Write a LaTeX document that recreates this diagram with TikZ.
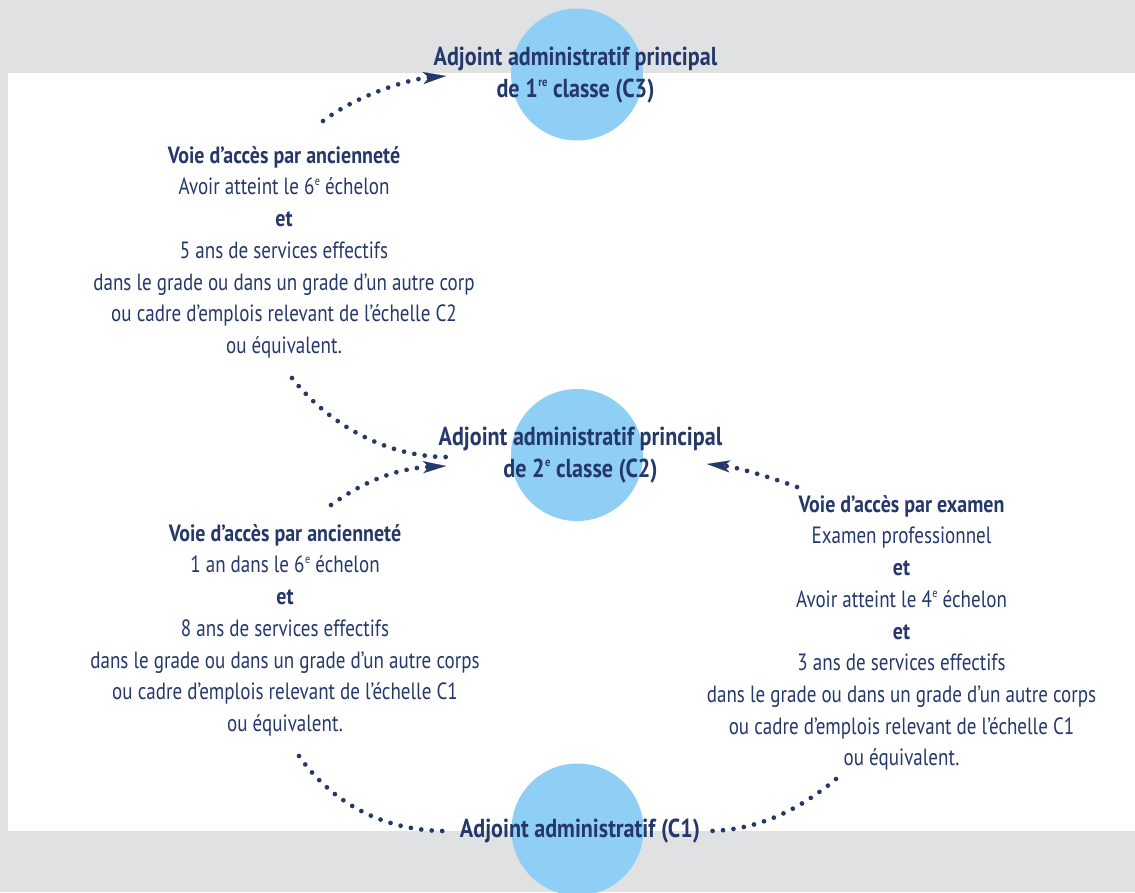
\documentclass[tikz,border=0pt]{standalone}
\usepackage{fontspec}
\setmainfont{PT Sans}[FakeStretch=0.81, BoldFeatures={FakeStretch=0.85}]
\usetikzlibrary{arrows.meta}
\definecolor{navy}{HTML}{24386A}
\definecolor{lblue}{HTML}{8FCEF5}
\definecolor{bggray}{HTML}{E0E1E3}
\tikzset{
  circ/.style={circle, fill=lblue, minimum size=132pt, inner sep=0pt},
  titletext/.style={anchor=north, inner sep=0pt, align=center, text=navy,
    font=\fontsize{26}{32}\selectfont\bfseries},
  blocktext/.style={anchor=north, inner sep=0pt, align=center, text=navy,
    font=\fontsize{23.5}{31.7}\selectfont},
  dotline/.style={draw=navy, line width=4.7pt, line cap=round, dash pattern=on 0pt off 10.5pt},
  headed/.style={-{Stealth[length=23pt, width=12pt, inset=6pt, line width=0.1pt]}}
}
\newcommand{\fs}{\rule{0pt}{26pt}}
\newcommand{\expo}[1]{\kern0.5pt\raisebox{0.42em}{\fontsize{12.5}{12.5}\selectfont #1}}
\begin{document}
\begin{tikzpicture}[x=1pt, y=-1pt]
\useasboundingbox (0,0) rectangle (1135,892);
% background
\fill[bggray] (0,0) rectangle (1135,892);
\fill[white] (8,73) rectangle (1135,831);
% circles
\node[circ] (c3) at (577,74.5) {};
\node[circ] (c2) at (577,455) {};
\node[circ] (c1) at (577.5,829.5) {};
% titles
\node[titletext] (t3) at (575.5,39) {\fs Adjoint administratif principal\\de 1\expo{re} classe (C3)};
\node[titletext] (t2) at (580.5,419) {\fs Adjoint administratif principal\\de 2\expo{e} classe (C2)};
\node[titletext] (t1) at (580,811) {\fs Adjoint administratif (C1)};
% text blocks
\node[blocktext] (b3) at (284,137) {\fs\textbf{Voie d’accès par ancienneté}\\
Avoir atteint le 6\expo{e} échelon\\
\textbf{et}\\
5 ans de services effectifs\\
dans le grade ou dans un grade d’un autre corp\\
ou cadre d’emplois relevant de l’échelle C2\\
ou équivalent.};
\node[blocktext] (b2) at (285,515) {\fs\textbf{Voie d’accès par ancienneté}\\
1 an dans le 6\expo{e} échelon\\
\textbf{et}\\
8 ans de services effectifs\\
dans le grade ou dans un grade d’un autre corps\\
ou cadre d’emplois relevant de l’échelle C1\\
ou équivalent.};
\node[blocktext] (b1) at (901.5,486) {\fs\textbf{Voie d’accès par examen}\\
Examen professionnel\\
\textbf{et}\\
Avoir atteint le 4\expo{e} échelon\\
\textbf{et}\\
3 ans de services effectifs\\
dans le grade ou dans un grade d’un autre corps\\
ou cadre d’emplois relevant de l’échelle C1\\
ou équivalent.};
% connector end points
\coordinate (a1s) at (323,121);   \coordinate (a1e) at (446,76);
\coordinate (a2s) at (292,378);   \coordinate (a2e) at (447,457);
\coordinate (a3s) at (331,505);   \coordinate (a3e) at (446,466);
\coordinate (a4s) at (797,487);   \coordinate (a4e) at (707,464);
\coordinate (a5s) at (299,756);   \coordinate (a5e) at (446,831);
\coordinate (a6s) at (836,779);   \coordinate (a6e) at (706,831);
% connectors
\draw[dotline, headed] (a1s) .. controls (354,97) and (406,79.5) .. (a1e);
\draw[dotline] (a2s) .. controls (329,425) and (387,457) .. (a2e);
\draw[dotline, headed] (a3s) .. controls (371.5,475.6) and (406,468) .. (a3e);
\draw[dotline, headed] (a4s) .. controls (768.8,476.7) and (736.8,467.1) .. (a4e);
\draw[dotline] (a5s) .. controls (333.4,805) and (386,831) .. (a5e);
\draw[dotline] (a6s) .. controls (797.7,811) and (756,831) .. (a6e);
\end{tikzpicture}
\end{document}
